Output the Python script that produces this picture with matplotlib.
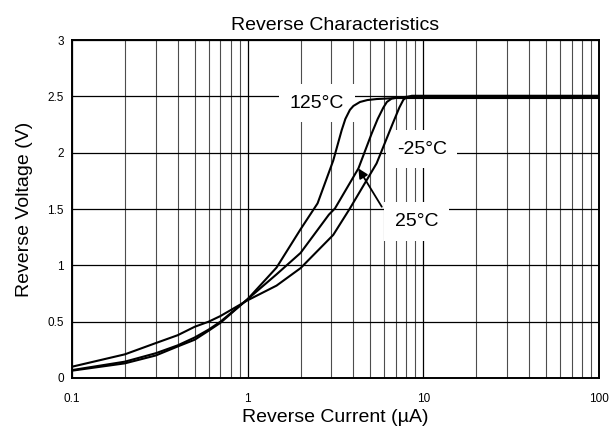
import matplotlib
matplotlib.use("Agg")
import matplotlib.pyplot as plt
from matplotlib.ticker import LogLocator, FixedLocator, NullFormatter

plt.rcParams['font.family'] = ['Liberation Sans', 'DejaVu Sans']

# Reverse current (uA) vs reverse voltage (V) per temperature
current_125 = [0.1, 0.2, 0.3, 0.4, 0.5, 0.6, 0.7, 1.0, 1.46, 2.0, 2.5, 3.07, 3.43, 3.6, 3.82, 4.0, 4.36, 4.8, 5.42, 7.0, 100]
voltage_125 = [0.07, 0.145, 0.22, 0.29, 0.36, 0.43, 0.50, 0.70, 0.98, 1.32, 1.55, 1.93, 2.20, 2.30, 2.38, 2.415, 2.45, 2.467, 2.476, 2.485, 2.485]

current_25 = [0.1, 0.2, 0.3, 0.4, 0.5, 0.6, 0.7, 1.0, 1.46, 2.0, 2.9, 3.14, 4.27, 5.08, 5.5, 5.92, 6.2, 6.6, 7.2, 8.0, 100]
voltage_25 = [0.065, 0.13, 0.20, 0.28, 0.34, 0.42, 0.49, 0.70, 0.92, 1.11, 1.45, 1.505, 1.86, 2.17, 2.30, 2.40, 2.45, 2.48, 2.49, 2.495, 2.495]

current_m25 = [0.1, 0.2, 0.3, 0.4, 0.5, 0.6, 0.7, 1.0, 1.46, 2.0, 3.07, 3.82, 5.42, 6.7, 7.3, 7.7, 8.1, 8.6, 100]
voltage_m25 = [0.10, 0.21, 0.31, 0.38, 0.455, 0.50, 0.55, 0.69, 0.82, 0.975, 1.27, 1.505, 1.905, 2.26, 2.40, 2.47, 2.495, 2.505, 2.505]

x_ticks = [0.1, 1, 10, 100]
x_tick_labels = ["0.1", "1", "10", "100"]
y_ticks = [0, 0.5, 1, 1.5, 2, 2.5, 3]
y_tick_labels = ["0", "0.5", "1", "1.5", "2", "2.5", "3"]

fig = plt.figure(figsize=(6.12, 4.32), dpi=100)
ax = fig.add_axes([0.1176, 0.125, 0.8612, 0.7824])

ax.set_xscale("log")
ax.set_xlim(0.1, 100)
ax.set_ylim(0, 3)

ax.xaxis.set_major_locator(FixedLocator(x_ticks))
ax.set_xticklabels(x_tick_labels)
ax.xaxis.set_minor_locator(LogLocator(base=10, subs=range(2, 10)))
ax.xaxis.set_minor_formatter(NullFormatter())
ax.set_yticks(y_ticks)
ax.set_yticklabels(y_tick_labels)

ax.tick_params(which="both", length=0, labelsize=8.5)
ax.tick_params(axis="x", pad=11)
ax.tick_params(axis="y", pad=6)

ax.set_axisbelow(True)
ax.grid(which="major", axis="both", color="black", linewidth=0.9)
ax.grid(which="minor", axis="x", color="0.3", linewidth=0.8)

for sp in ax.spines.values():
    sp.set_linewidth(1.4)
    sp.set_zorder(6)

line_kw = dict(color="black", linewidth=1.5, zorder=4, solid_joinstyle="round")
ax.plot(current_125, voltage_125, **line_kw)
ax.plot(current_25, voltage_25, **line_kw)
ax.plot(current_m25, voltage_m25, **line_kw)

box = dict(boxstyle="square,pad=0.55", facecolor="white", edgecolor="none")
ax.text(2.47, 2.44, "125°C", fontsize=14, ha="center", va="center", bbox=box, zorder=3)
ax.text(9.8, 2.03, "-25°C", fontsize=14, ha="center", va="center", bbox=box, zorder=3)
ax.text(9.15, 1.39, "25°C", fontsize=14, ha="center", va="center", bbox=box, zorder=3)

ax.annotate("", xy=(4.27, 1.86), xytext=(5.8, 1.52),
            arrowprops=dict(arrowstyle="-|>", color="black", lw=1.3,
                            mutation_scale=14, shrinkA=0, shrinkB=0),
            zorder=5)

ax.set_title("Reverse Characteristics", fontsize=14, pad=7)
ax.set_xlabel("Reverse Current (µA)", fontsize=14, labelpad=3)
ax.set_ylabel("Reverse Voltage (V)", fontsize=14, labelpad=10)

fig.savefig("out.png", dpi=100)
